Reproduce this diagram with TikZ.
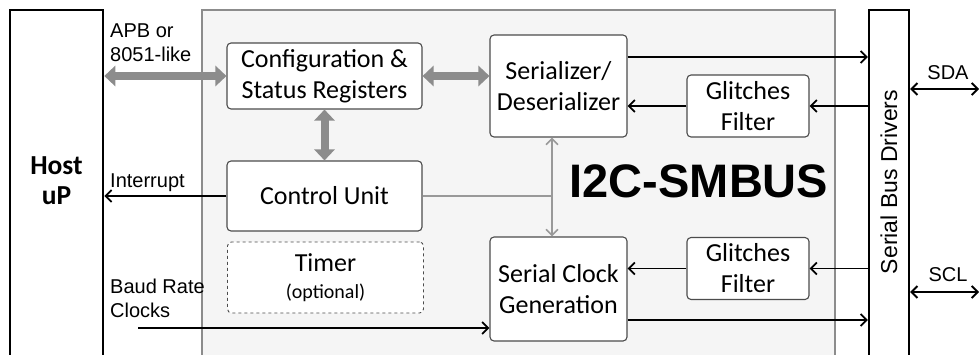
\documentclass[tikz,border=0pt]{standalone}
\usepackage{fontspec}
\setmainfont{Carlito}
\newfontfamily\arial{Liberation Sans}
\usetikzlibrary{positioning}
\usetikzlibrary{arrows.meta}
\usetikzlibrary{calc}

\tikzset{
  blk/.style={draw=black!70, line width=1.1pt, rounded corners=4pt, fill=white,
    align=center, inner sep=0pt, font=\fontsize{26}{31}\selectfont},
  lbl/.style={inner sep=0pt, align=left, font=\arial\fontsize{20}{24}\selectfont},
  sig/.style={line width=1.8pt, -{Straight Barb[length=6pt,width=12pt]}},
  dsig/.style={line width=1.8pt, {Straight Barb[length=6pt,width=12pt]}-{Straight Barb[length=6pt,width=12pt]}},
  bus/.style={draw=black!45, line width=8pt,
    {Triangle[length=11pt,width=20pt]}-{Triangle[length=11pt,width=20pt]}},
  ctl/.style={draw=black!40, line width=1.6pt}
}

\begin{document}
\begin{tikzpicture}[x=1pt,y=-1pt]
    \clip (0,0) rectangle (979,354);
    \fill[white] (0,0) rectangle (979,354);

    % Define the outer blocks
    \node[draw=black!45, line width=1.4pt, fill=black!4, minimum width=633, minimum height=360, inner sep=0pt] (chip) at (518.5,190) {};
    \node[draw, line width=2.6pt, minimum width=93, minimum height=360, inner sep=0pt] (host) at (56.5,190) {};
    \node[draw, line width=2.4pt, minimum width=40, minimum height=360, inner sep=0pt] (drv) at (889,190) {};

    \node[font=\bfseries\fontsize{27.5}{30}\selectfont, align=center] (hosttxt) at (56.5,181) {Host\\uP};
    \node[rotate=90, font=\arial\fontsize{23}{26}\selectfont] (drvtxt) at (889,182) {Serial Bus Drivers};
    \node[font=\arial\bfseries\fontsize{47}{50}\selectfont] (title) at (699,181) {I2C-SMBUS};

    % Define the inner blocks
    \node[blk, minimum width=195, minimum height=66] (cfg) at (324.5,76) {Configuration \&\\Status Registers};
    \node[blk, minimum width=137, minimum height=102] (serdes) at (558.5,86) {Serializer/\\Deserializer};
    \node[blk, minimum width=195, minimum height=70] (cu) at (324.5,196) {Control Unit};
    \node[blk, dashed, line width=0.9pt, minimum width=196, minimum height=71] (timer) at (325.5,277.5)
        {Timer\\[-4pt]{\fontsize{20}{22}\selectfont (optional)}};
    \node[blk, minimum width=137, minimum height=104] (scg) at (558.5,289) {Serial Clock\\Generation};
    \foreach \name/\y in {gf1/106, gf2/268.5}
        \node[blk, minimum width=122, minimum height=62] (\name) at (748,\y) {Glitches\\Filter};

    % Define the signal rows
    \coordinate (txd) at (0,57);
    \coordinate (sclo) at (0,320);
    \coordinate (baud) at (138,328);
    \coordinate (jn) at (552,196);
    \coordinate (sda) at (979,89);
    \coordinate (scl) at (979,292);

    % Draw the buses
    \draw[bus] (host.east |- cfg) -- (cfg.west);
    \draw[bus] (cfg.east) -- (serdes.west |- cfg);
    \draw[bus] (cfg.south) -- (cu.north);

    % Draw the lines
    \draw[ctl] (cu.east) -- (jn);
    \draw[ctl, {Straight Barb[length=6pt,width=12pt]}-{Straight Barb[length=6pt,width=12pt]}] (serdes.south -| jn) -- (scg.north -| jn);
    \draw[sig] (cu.west) -- (host.east |- cu);
    \draw[sig] (baud) -- (scg.west |- baud);
    \draw[sig] (serdes.east |- txd) -- (drv.west |- txd);
    \draw[sig] (scg.east |- sclo) -- (drv.west |- sclo);
    \foreach \gf/\blk in {gf1/serdes, gf2/scg} {
        \draw[sig] (drv.west |- \gf) -- (\gf.east);
        \draw[sig] (\gf.west) -- (\blk.east |- \gf);
    }
    \draw[dsig] (drv.east |- sda) -- (sda);
    \draw[dsig] (drv.east |- scl) -- (scl);

    % Labels
    \node[lbl, anchor=north west] (apb) at (110,24) {APB or\\8051-like};
    \node[lbl, anchor=base west] (irq) at (110,187) {Interrupt};
    \node[lbl, anchor=north west] (brc) at (110,279) {Baud Rate\\Clocks};
    \node[lbl] (sdatxt) at (948,73) {SDA};
    \node[lbl] (scltxt) at (948,275) {SCL};
\end{tikzpicture}
\end{document}
